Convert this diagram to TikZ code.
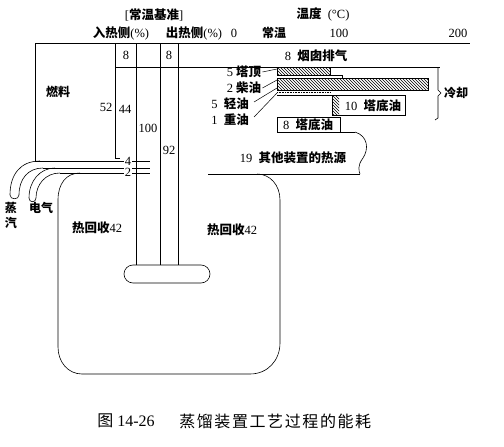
\documentclass[tikz,border=0pt]{standalone}
\usepackage{fontspec}
\setmainfont{Liberation Serif}
\newfontfamily\cjk{Noto Sans CJK SC}
\usetikzlibrary{positioning}
\usetikzlibrary{patterns}

\begin{document}
\begin{tikzpicture}[x=1pt,y=-1pt,line width=0.6pt,
    every node/.style={font=\fontsize{12.5}{14}\selectfont, inner sep=1pt},
    zh/.style={font=\fontsize{12}{14}\selectfont\cjk\bfseries},
    hatchbar/.style={draw, pattern=north west lines},
    tag/.style={fill=white, inner sep=0.5pt}]
    \useasboundingbox (0,0) rectangle (504,447);

    \node(base) at (154,15) {[{\cjk\bfseries 常温基准}]};
    \node(inhead) at (121,33) {{\cjk\bfseries 入热侧}(\%)};
    \node(outhead) at (194,33) {{\cjk\bfseries 出热侧}(\%)};
    \node(temp) at (323,14) {{\cjk\bfseries 温度}\ \ (°C)};
    \node(t0) at (234,33) {0};
    \node(troom) [zh] at (274,33) {常温};
    \node(t100) at (339,33) {100};
    \node(t200) at (458,33) {200};

    % frame of the flows
    \draw (35,43) -- (470,43);
    \draw (115,67) -- (440,67);
    \draw (35,43) -- (35,161) -- (150,161);
    \draw (115,43) -- (115,158) -- (120,158);
    \draw (136,43) -- (136,265);
    \draw (160,43) -- (160,265);
    \draw (178,43) -- (178,265);
    \draw (43,168) -- (150,168);
    \draw (60,173) -- (150,173);

    \node(in8) at (126,55) {8};
    \node(out8) at (169,55) {8};
    \node(fuel) [zh] at (58,92) {燃料};
    \node(in52) at (106,107) {52};
    \node(in44) at (125,109) {44};
    \node(sum100) at (148,128) {100};
    \node(out92) at (169,150) {92};
    \node(in4) [tag] at (128,161) {4};
    \node(in2) [tag] at (128,172) {2};

    % steam and power pipes
    \draw (40,161) .. controls (20,161) and (10,175) .. (10,195)
        .. controls (10,200) and (19,200) .. (19,195)
        .. controls (19,179) and (28,168) .. (43,168);
    \draw (55,168) .. controls (40,168) and (29,181) .. (29,198)
        .. controls (29,203) and (36,203) .. (36,198)
        .. controls (36,185) and (45,173) .. (60,173);
    \node(steam1) [zh] at (11,208) {蒸};
    \node(steam2) [zh, below=1pt of steam1] {汽};
    \node(power) [zh] at (41,208) {电气};

    % heat recovery loop
    \draw (80,173) .. controls (66,173) and (58,184) .. (58,200) -- (58,347)
        .. controls (58,362) and (68,374) .. (82,374) -- (250,374)
        .. controls (268,374) and (280,360) .. (280,343) -- (280,200)
        .. controls (280,185) and (270,174) .. (257,174);
    \draw[rounded corners=9pt] (124,265) rectangle (210,283);
    \node(rec1) at (97,228) {{\cjk\bfseries 热回收}42};
    \node(rec2) at (232,230) {{\cjk\bfseries 热回收}42};

    % outputs
    \node(stack) at (316,56) {8\ \ {\cjk\bfseries 烟囱排气}};
    \draw[hatchbar] (277,67) rectangle (330,75);
    \draw (330,75) -- (342,75) -- (342,78);
    \draw[hatchbar] (277,78) rectangle (428,90);
    \draw[densely dotted] (277,92.5) -- (330,92.5);
    \fill[pattern=north west lines] (332,95) rectangle (339,115);
    \draw (277,95) -- (405,95) -- (405,115) -- (332,115) -- (332,95);
    \node(bot10) at (373,106) {10\ \ {\cjk\bfseries 塔底油}};
    \draw (277,132) -- (277,117) -- (340,117) -- (340,132);
    \draw (277,132) -- (355,132);
    \node(bot8) at (308,125) {8\ \ {\cjk\bfseries 塔底油}};
    \draw (355,132) .. controls (368,136) and (369,149) .. (363,158)
        .. controls (357,166) and (359,171) .. (360,174);
    \draw (208,174) -- (360,174);
    \node(other) at (293,158) {19\ \ {\cjk\bfseries 其他装置的热源}};

    \node(top5) at (244,72) {5 {\cjk\bfseries 塔顶}};
    \node(diesel2) at (244,88) {2 {\cjk\bfseries 柴油}};
    \node(light5) at (230,104) {5\ \ {\cjk\bfseries 轻油}};
    \node(heavy1) at (230,120) {1\ \ {\cjk\bfseries 重油}};
    \coordinate (b1) at (277,69);
    \coordinate (b2) at (277,80);
    \coordinate (b3) at (277,88);
    \coordinate (b4) at (277,93);
    \draw[line width=0.5pt] (top5.east) -- (b1);
    \draw[line width=0.5pt] (diesel2.east) -- (b2);
    \draw[line width=0.5pt] (light5.east) ++(4,-2) -- (b3);
    \draw[line width=0.5pt] (heavy1.east) ++(4,-3) -- (b4);

    \draw (438,67) -- (438,90) -- (441,93) -- (438,96) -- (438,118) -- (435,120);
    \node(cool) [zh] at (456,93) {冷却};

    \node(fig) at (126,421) {\fontsize{16}{18}\selectfont{\cjk 图} 14-26};
    \node(caption) [right=22pt of fig] {\fontsize{16}{18}\selectfont\cjk\addfontfeature{LetterSpace=10}蒸馏装置工艺过程的能耗};
    % \draw[help lines,step=20] (0,0) grid (504,447);
\end{tikzpicture}
\end{document}
